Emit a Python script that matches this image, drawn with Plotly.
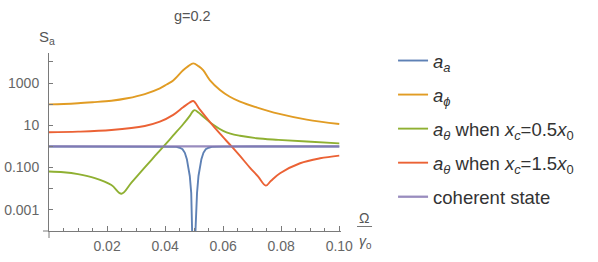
import plotly.graph_objects as go

# ---- data ----
x_aa = [0, 0.01, 0.02, 0.03, 0.04, 0.0439, 0.045, 0.046, 0.0468, 0.0475, 0.048, 0.0485,
        0.049, 0.0494, 0.0497, 0.05, 0.0503, 0.0506, 0.051, 0.0515, 0.052, 0.0525,
        0.0532, 0.054, 0.055, 0.0561, 0.06, 0.07, 0.08, 0.09, 0.1]
a_a = [1, 1, 1, 0.99, 0.98, 0.955, 0.87, 0.74, 0.5, 0.25, 0.1, 0.04,
       0.0063, 0.00063, 0.00003, 1e-8, 0.00003, 0.00063, 0.0063, 0.04, 0.1, 0.25,
       0.5, 0.74, 0.87, 0.955, 0.98, 0.99, 1, 1, 1]

x_phi = [0, 0.005, 0.01, 0.015, 0.0215, 0.027, 0.033, 0.0382, 0.0405, 0.0428, 0.0462, 0.048,
         0.0497, 0.0515, 0.0531, 0.0554, 0.0589, 0.0623, 0.0658, 0.0715, 0.079, 0.0888, 0.1]
a_phi = [98, 102, 110, 123, 145, 190, 300, 560, 850, 1320, 4000, 6300,
         8500, 6300, 4070, 1380, 470, 224, 132, 71, 35.5, 18.6, 11.5]

x_th05 = [0, 0.005, 0.01, 0.0158, 0.0215, 0.025, 0.0284, 0.033, 0.0365, 0.0401, 0.0428,
          0.0462, 0.0485, 0.0495, 0.0502, 0.0515, 0.0531, 0.0566, 0.06, 0.0625, 0.0658,
          0.0715, 0.079, 0.0888, 0.1]
a_th05 = [0.065, 0.060, 0.049, 0.032, 0.015, 0.0058, 0.0195, 0.101, 0.355, 1.26, 3.3,
          11.2, 28, 45, 52, 40, 26, 10.5, 5.4, 4.0, 3.2,
          2.45, 2.05, 1.7, 1.4]

x_th15 = [0, 0.01, 0.0215, 0.033, 0.0382, 0.0428, 0.0462, 0.0485, 0.0497, 0.052, 0.0554,
          0.0589, 0.0629, 0.0658, 0.0692, 0.072, 0.0747, 0.0765, 0.0796, 0.0865, 0.0934, 0.1]
a_th15 = [4.7, 5.0, 6.0, 9.3, 14.8, 31, 71, 120, 141, 55, 14.5,
          4.0, 1.0, 0.355, 0.10, 0.038, 0.014, 0.024, 0.054, 0.16, 0.275, 0.37]

x_coh = [0, 0.1]
coh = [1, 1]

y_tickvals = [0.001, 0.01, 0.1, 1, 10, 100, 1000, 10000]
y_ticktext = ["0.001", "", "0.100", "", "10", "", "1000", ""]
x_tickvals = [0.02, 0.04, 0.06, 0.08, 0.10]
x_ticktext = ["0.02", "0.04", "0.06", "0.08", "0.10"]

names = [
    "<i>a</i><sub><i>a</i></sub>",
    "<i>a</i><sub><i>ϕ</i></sub>",
    "<i>a</i><sub><i>θ</i></sub> when <i>x</i><sub><i>c</i></sub>=0.5<i>x</i><sub>0</sub>",
    "<i>a</i><sub><i>θ</i></sub> when <i>x</i><sub><i>c</i></sub>=1.5<i>x</i><sub>0</sub>",
    "coherent state",
]
colors = ["#5E81B5", "#E19C24", "#8FB032", "#EB6235", "#8778B3"]

fig = go.Figure()
series = [(x_aa, a_a), (x_phi, a_phi), (x_th05, a_th05), (x_th15, a_th15), (x_coh, coh)]
for i, (xs, ys) in enumerate(series):
    spline = i in (1, 2, 3)
    line = dict(color=colors[i], width=2.3 if i == 4 else 1.9,
                shape="spline" if spline else "linear")
    if spline:
        line["smoothing"] = 1.0
    fig.add_trace(go.Scatter(
        x=xs, y=ys, mode="lines", name=names[i], legendgroup=str(i),
        line=line, opacity=0.85 if i == 4 else 1.0,
    ))

AX = "#7a7a7a"
TK = "#666666"
fig.update_layout(
    width=598, height=262,
    margin=dict(l=49, r=257, t=53, b=31, autoexpand=False),
    paper_bgcolor="white", plot_bgcolor="white",
    font=dict(family="Liberation Sans, Arial, sans-serif", color="#444444"),
    showlegend=True,
    legend=dict(x=(393 - 49.3) / 291.7, y=(231 - 42) / 178, xanchor="left", yanchor="top",
                font=dict(size=18.5, color="#333333"), tracegroupgap=7,
                traceorder="grouped", bgcolor="rgba(0,0,0,0)", maxheight=255),
    xaxis=dict(range=[0, 0.1006], showgrid=False, zeroline=False, automargin=False,
               showline=True, linecolor=AX, linewidth=1,
               ticks="inside", ticklen=5, tickcolor=AX,
               tickvals=x_tickvals, ticktext=x_ticktext,
               tickfont=dict(size=14, color=TK), ticklabelstandoff=2,
               minor=dict(dtick=0.005, tick0=0, ticks="inside", ticklen=3, tickcolor=AX)),
    yaxis=dict(type="log", range=[-4, 4.42], showgrid=False, zeroline=False, automargin=False,
               showline=True, linecolor=AX, linewidth=1,
               ticks="inside", ticklen=4, tickcolor=AX,
               tickvals=y_tickvals, ticktext=y_ticktext,
               tickfont=dict(size=14, color=TK), ticklabelstandoff=6),
)

# title, axis labels
def px_x(p):
    return (p - 49.3) / 291.7


def px_y(p):
    return (231 - p) / 178


common = dict(showarrow=False, xref="paper", yref="paper", xanchor="center", yanchor="middle")
fig.add_annotation(x=px_x(193), y=px_y(16), text="g=0.2",
                   font=dict(size=14.5, color="#555555"), **common)
fig.add_annotation(x=px_x(47), y=px_y(38), text="S<sub>a</sub>",
                   font=dict(size=15, color="#555555"), **common)
fig.add_annotation(x=px_x(364), y=px_y(218), text="Ω",
                   font=dict(size=14, color="#555555"), **common)
fig.add_annotation(x=px_x(365), y=px_y(242), text="<i>γ</i><sub>0</sub>",
                   font=dict(size=14, color="#555555"), **common)
fig.add_shape(type="line", xref="paper", yref="paper",
              x0=px_x(357), x1=px_x(372), y0=px_y(226.5), y1=px_y(226.5),
              line=dict(color="#777777", width=1))
# axes overhang at the origin
fig.add_shape(type="line", xref="paper", yref="paper", x0=-6 / 291.7, x1=0, y0=0, y1=0,
              line=dict(color=AX, width=1))
fig.add_shape(type="line", xref="paper", yref="paper", x0=0, x1=0, y0=-7 / 178, y1=0,
              line=dict(color=AX, width=1))

fig.write_html("out.html", config={"displayModeBar": False},
               post_script="document.body.style.margin='0';")
